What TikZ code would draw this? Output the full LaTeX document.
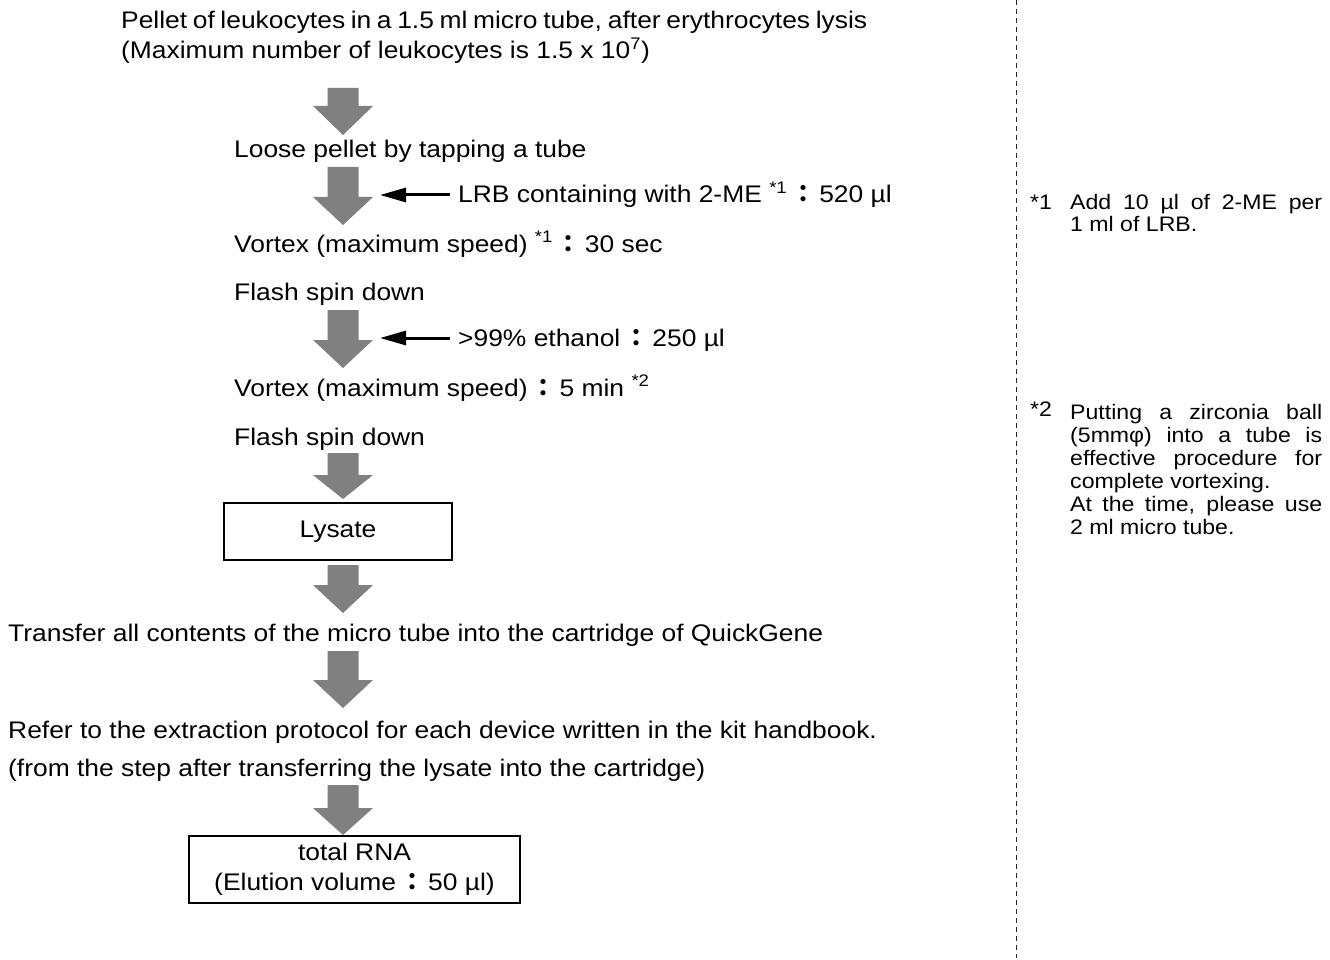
\documentclass[tikz,border=0pt]{standalone}
\usepackage{fontspec}
\setmainfont{Liberation Sans}[FakeStretch=1.1]
\newfontfamily\cjk{Noto Sans CJK JP}
\usetikzlibrary{arrows.meta}
\definecolor{garrowgray}{HTML}{808080}
\newcommand{\fcolon}{\kern4pt{\cjk\bfseries ：}\kern4pt}
\newcommand{\garrow}[3]{%
  \fill[garrowgray] (327.5,#1) -- (358.5,#1) -- (358.5,#2) -- (373,#2) -- (343,#3) -- (313,#2) -- (327.5,#2) -- cycle;}
\tikzset{
  txt/.style={anchor=base west, inner sep=0pt, font=\fontsize{24}{30}\selectfont},
  fnote/.style={anchor=base west, inner sep=0pt, font=\fontsize{21}{24}\selectfont},
  stepbox/.style={draw=black, line width=1.3pt, inner sep=0pt, align=center, font=\fontsize{24}{30}\selectfont},
  addarrow/.style={line width=3pt, -{Triangle[length=26pt,width=14pt]}},
  divider/.style={draw=black!85, line width=1pt, dash pattern=on 5pt off 4pt}
}
\begin{document}
\begin{tikzpicture}[x=1pt,y=-1pt]
\useasboundingbox (0,0) rectangle (1330,960);
\fill[white] (0,0) rectangle (1330,960);

% divider
\coordinate (dtop) at (1016,0);
\coordinate (dbot) at (1016,958);
\draw[divider] (dtop) -- (dbot);

% main texts
\node[txt] (t1) at (121,29) {\makebox[746pt][s]{Pellet of leukocytes in a 1.5 ml micro tube, after erythrocytes lysis}};
\node[txt] (t2) at (121,59) {(Maximum number of leukocytes is 1.5 x 10\textsuperscript{7})};
\garrow{88}{106}{135}
\node[txt] (t3) at (234,158) {Loose pellet by tapping a tube};
\garrow{167}{197}{225}
\node[txt] (lrb) at (458,203) {LRB containing with 2-ME \textsuperscript{*1}\fcolon 520 µl};
\coordinate (lrbtail) at (450,195);
\coordinate (lrbtip) at (380,195);
\draw[addarrow] (lrbtail) -- (lrbtip);
\node[txt] (t4) at (234,252) {Vortex (maximum speed) \textsuperscript{*1}\fcolon 30 sec};
\node[txt] (t5) at (234,300) {Flash spin down};
\garrow{310}{340}{368}
\node[txt] (eth) at (458,346) {>99\% ethanol\fcolon 250 µl};
\coordinate (ethtail) at (450,338);
\coordinate (ethtip) at (380,338);
\draw[addarrow] (ethtail) -- (ethtip);
\node[txt] (t6) at (234,396) {Vortex (maximum speed)\fcolon 5 min \textsuperscript{*2}};
\node[txt] (t7) at (234,445) {Flash spin down};
\garrow{453}{475}{499}
\node[stepbox, minimum width=228pt, minimum height=57pt] (lysate) at (338,531.5) {Lysate};
\garrow{565}{585}{613}
\node[txt] (t8) at (8,641) {Transfer all contents of the micro tube into the cartridge of QuickGene};
\garrow{651}{680}{708}
\node[txt] (t9) at (8,738) {Refer to the extraction protocol for each device written in the kit handbook.};
\node[txt] (t10) at (8,776) {(from the step after transferring the lysate into the cartridge)};
\garrow{785}{808}{835}
\node[stepbox, minimum width=331pt, minimum height=67pt] (rna) at (354.5,869.5) {total RNA\\(Elution volume\fcolon 50 µl)};

% footnotes
\node[fnote] (f1m) at (1030,209) {*1};
\node[fnote] (f1a) at (1070,209) {\makebox[252pt][s]{Add 10 µl of 2-ME per}};
\node[fnote] (f1b) at (1070,231) {1 ml of LRB.};
\node[fnote] (f2m) at (1030,416) {*2};
\node[fnote] (f2a) at (1070,419) {\makebox[252pt][s]{Putting a zirconia ball}};
\node[fnote] (f2b) at (1070,442) {\makebox[252pt][s]{(5mmφ) into a tube is}};
\node[fnote] (f2c) at (1070,465) {\makebox[252pt][s]{effective procedure for}};
\node[fnote] (f2d) at (1070,488) {complete vortexing.};
\node[fnote] (f2e) at (1070,511) {\makebox[252pt][s]{At the time, please use}};
\node[fnote] (f2f) at (1070,534) {2 ml micro tube.};
\end{tikzpicture}
\end{document}
